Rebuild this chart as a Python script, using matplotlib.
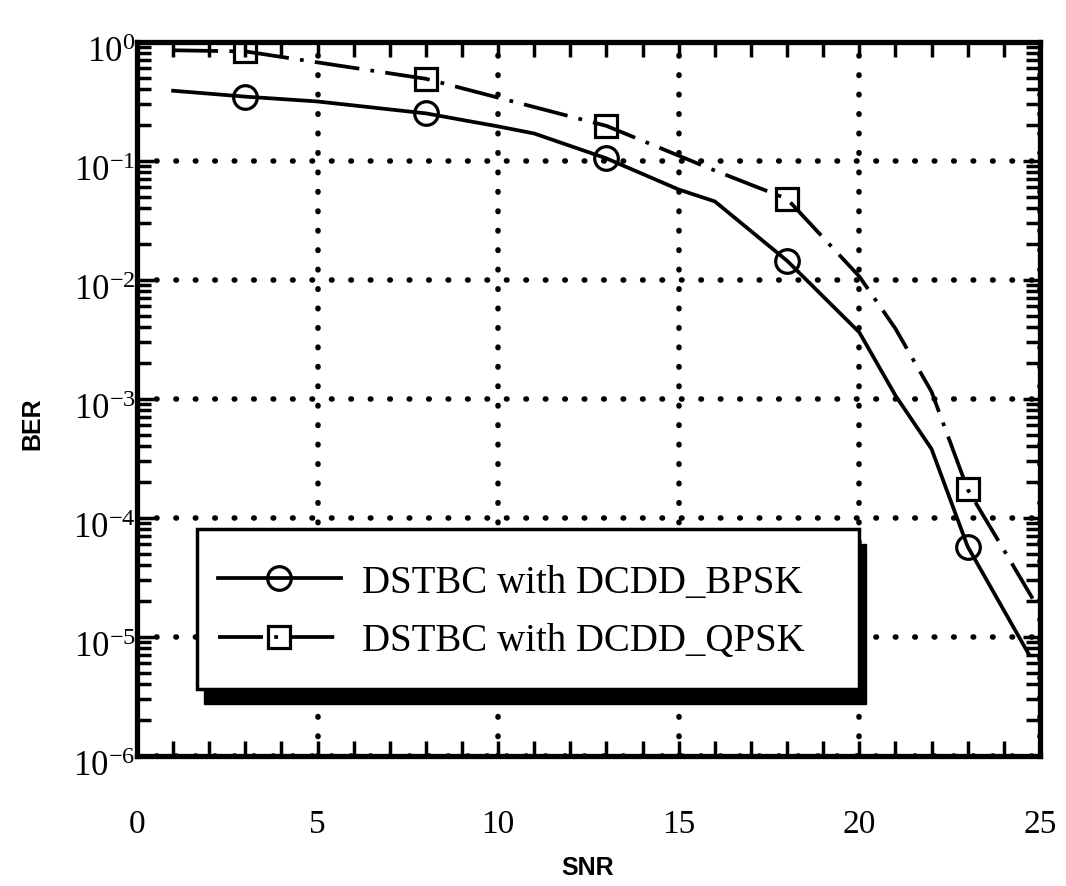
import numpy as np
import matplotlib
matplotlib.use("Agg")
import matplotlib.pyplot as plt
from matplotlib.patches import Rectangle
from matplotlib.transforms import ScaledTranslation
from matplotlib.ticker import FixedLocator, NullFormatter

plt.rcParams['font.family'] = ['Liberation Serif', 'DejaVu Serif']
plt.rcParams['mathtext.fontset'] = 'custom'
plt.rcParams['mathtext.rm'] = 'Liberation Serif'
plt.rcParams['mathtext.it'] = 'Liberation Serif'
plt.rcParams['axes.unicode_minus'] = False

# BER curves
snr_bpsk = [1, 3, 5, 8, 10, 11, 13, 15, 16, 18, 20, 21, 22, 23, 24.7]
ber_bpsk = [0.389, 0.347, 0.316, 0.251, 0.195, 0.170, 0.105, 0.0575, 0.0457,
            0.0145, 0.00363, 0.00107, 3.8e-4, 5.75e-5, 7.1e-6]
mark_bpsk = [1, 3, 6, 9, 13]

snr_qpsk = [1, 3, 8, 13, 16, 18, 20, 21, 22, 23, 24, 24.8]
ber_qpsk = [0.851, 0.832, 0.49, 0.197, 0.083, 0.048, 0.0107, 0.0039,
            0.00115, 1.74e-4, 5.4e-5, 2.1e-5]
mark_qpsk = [1, 2, 3, 5, 9]

labels = ['DSTBC with DCDD_BPSK', 'DSTBC with DCDD_QPSK']
xticks = [0, 5, 10, 15, 20, 25]
decades = [-6, -5, -4, -3, -2, -1, 0]

fig = plt.figure(figsize=(10.66, 8.87), dpi=100)
ax = fig.add_axes([0.1285, 0.1466, 0.847, 0.805])

ax.semilogy(snr_bpsk, ber_bpsk, 'k-', lw=2.7, marker='o', ms=17, mfc='none',
            mew=2.3, markevery=mark_bpsk, label=labels[0], zorder=3)
ax.semilogy(snr_qpsk, ber_qpsk, 'k', lw=2.7, ls=(0, (12, 3, 1, 3)), marker='s',
            ms=16, mfc='none', mew=2.3, markevery=mark_qpsk, label=labels[1],
            zorder=3)

ax.set_xlim(0, 25)
ax.set_ylim(1e-6, 1)

ax.xaxis.set_major_locator(FixedLocator(xticks))
ax.xaxis.set_minor_locator(FixedLocator(np.arange(0, 26, 1)))
yminor = [m * 10.0 ** d for d in decades[:-1] for m in range(2, 10)]
ax.yaxis.set_major_locator(FixedLocator([10.0 ** d for d in decades]))
ax.yaxis.set_minor_locator(FixedLocator(yminor))
ax.yaxis.set_minor_formatter(NullFormatter())

ax.tick_params(axis='both', which='both', direction='in', top=True, right=True,
               width=2.5, color='k')
ax.tick_params(axis='x', which='both', length=11, labelsize=24, pad=38)
ax.tick_params(axis='y', which='major', length=12, labelsize=25, pad=1)
ax.tick_params(axis='y', which='minor', length=10)

for sp in ax.spines.values():
    sp.set_linewidth(3.8)

ax.grid(True, which='major', color='k', linestyle=(0, (0.1, 3.4)), linewidth=4,
        dash_capstyle='round')

# legend box with heavy shadow, drawn by hand
x0, y0, x1, y1 = 0.066, 0.094, 0.80, 0.318
dx, dy = 7 / 903, 15 / 714
ax.add_patch(Rectangle((x0 + dx, y0 - dy), x1 - x0, y1 - y0, transform=ax.transAxes,
                       facecolor='k', edgecolor='k', zorder=4))
ax.add_patch(Rectangle((x0, y0), x1 - x0, y1 - y0, transform=ax.transAxes,
                       facecolor='white', edgecolor='k', lw=2.5, zorder=5))
leg = ax.legend(loc='center left', bbox_to_anchor=(0.090, 0.202), frameon=False,
                fontsize=28, borderpad=0, handlelength=3.15, handletextpad=0.55,
                labelspacing=0.55, borderaxespad=0)
leg.set_zorder(6)

# nudge the y tick labels down a little, like the scan
shift = ScaledTranslation(0, -5 / 72, fig.dpi_scale_trans)
for t in ax.yaxis.get_major_ticks():
    t.label1.set_transform(t.label1.get_transform() + shift)

fig.text(588 / 1066, 1 - 868 / 887, 'SNR', family='Liberation Sans',
         weight='bold', fontsize=18, ha='center', va='center')
fig.text(32 / 1066, 1 - 424 / 887, 'BER', family='Liberation Sans',
         weight='bold', fontsize=18, ha='center', va='center', rotation=90)

fig.savefig('out.png', dpi=100)
